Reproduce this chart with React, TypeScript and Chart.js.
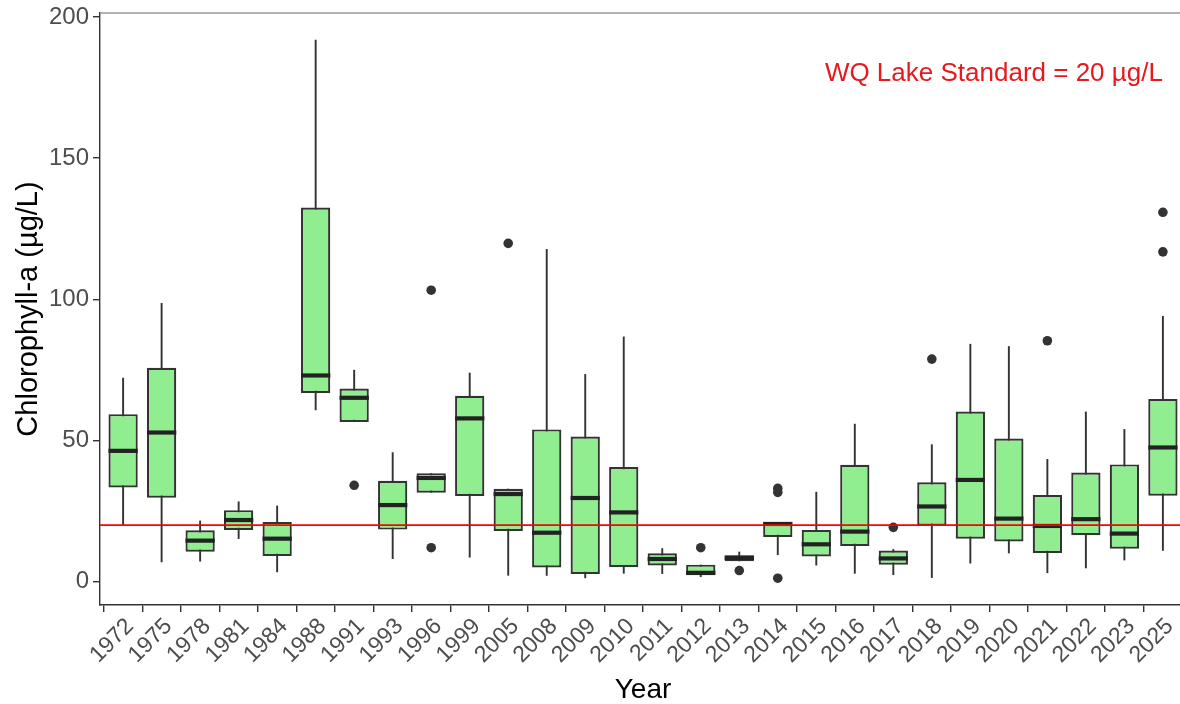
import { useEffect, useRef } from "react";
import { Chart, registerables } from "chart.js";

Chart.register(...registerables);

// Sampling years (one box per year)
const years = [
  "1972", "1975", "1978", "1981", "1984", "1988", "1991", "1993", "1996", "1999",
  "2005", "2008", "2009", "2010", "2011", "2012", "2013", "2014", "2015", "2016",
  "2017", "2018", "2019", "2020", "2021", "2022", "2023", "2025",
];

// Box-plot summary statistics, chlorophyll-a in µg/L
const whiskerLow = [
  19.9, 6.8, 7.1, 15.1, 3.3, 60.7, 56.5, 8.0, 31.5, 8.5,
  2.1, 2.1, 1.2, 2.8, 2.7, 1.6, 7.2, 9.4, 5.7, 2.8,
  2.3, 1.3, 6.4, 10.0, 3.0, 4.7, 7.5, 10.9,
];
const quartile1 = [
  33.3, 29.7, 10.6, 18.3, 9.1, 66.8, 56.5, 18.4, 31.5, 30.3,
  17.9, 5.0, 2.7, 5.1, 5.7, 2.2, 7.2, 15.8, 8.9, 12.6,
  6.0, 19.8, 15.2, 14.2, 10.1, 16.4, 11.6, 30.4,
];
const medians = [
  46.3, 52.8, 14.5, 21.8, 15.2, 73.0, 65.1, 27.1, 36.7, 57.8,
  31.0, 17.3, 29.6, 24.5, 8.0, 3.1, 8.4, 20.4, 13.2, 17.7,
  8.2, 26.6, 36.0, 22.3, 19.7, 22.1, 17.0, 47.5,
];
const quartile3 = [
  59.3, 75.7, 18.2, 25.3, 21.1, 132.5, 68.4, 35.7, 38.4, 65.8,
  32.9, 53.9, 51.4, 40.6, 10.0, 6.0, 9.3, 21.0, 18.3, 41.4,
  11.0, 35.2, 60.2, 50.7, 30.7, 38.6, 41.5, 64.7,
];
const whiskerHigh = [
  72.2, 98.7, 21.6, 28.4, 26.9, 191.9, 75.0, 45.8, 38.4, 74.0,
  32.9, 117.8, 73.5, 86.8, 11.8, 6.0, 10.6, 21.0, 31.8, 55.9,
  11.5, 48.6, 84.2, 83.4, 43.4, 60.2, 54.0, 94.1,
];

// Individual outlying samples
const outlierYears = [
  "1991", "1996", "1996", "2005", "2012", "2013", "2014", "2014", "2014",
  "2017", "2018", "2021", "2025", "2025",
];
const outlierValues = [
  34.1, 103.2, 12.0, 119.8, 12.0, 3.9, 33.0, 31.6, 1.2,
  19.2, 78.8, 85.3, 130.8, 116.8,
];

const yTicks = [0, 50, 100, 150, 200];
const standardValue = 20;
const standardLabel = "WQ Lake Standard = 20 µg/L";
const standardLabelY = 180;

const FONT = '"Liberation Sans", Arial, Helvetica, sans-serif';
const BOX_FILL = "#90EE90";
const INK = "#333333";

const boxExtras = {
  id: "boxExtras",
  afterDatasetsDraw(chart: any) {
    const { ctx, chartArea, scales } = chart;
    const x = scales.x;
    const y = scales.y;
    const boxMeta = chart.getDatasetMeta(1);
    ctx.save();

    // median bars across each box
    ctx.strokeStyle = "#222222";
    ctx.lineWidth = 4.2;
    ctx.lineCap = "butt";
    medians.forEach((m, i) => {
      const el = boxMeta.data[i];
      const half = el.width / 2;
      const px = x.getPixelForValue(i);
      const py = y.getPixelForValue(m);
      ctx.beginPath();
      ctx.moveTo(px - half, py);
      ctx.lineTo(px + half, py);
      ctx.stroke();
    });

    // water-quality standard reference line
    const sy = y.getPixelForValue(standardValue);
    ctx.strokeStyle = "#ff0000";
    ctx.lineWidth = 1.6;
    ctx.beginPath();
    ctx.moveTo(chartArea.left, sy);
    ctx.lineTo(chartArea.right, sy);
    ctx.stroke();

    ctx.fillStyle = "#e8191e";
    ctx.font = `26px ${FONT}`;
    ctx.textAlign = "right";
    ctx.textBaseline = "middle";
    ctx.fillText(
      standardLabel,
      x.getPixelForValue(years.length - 1),
      y.getPixelForValue(standardLabelY)
    );

    // light frame line along the top of the panel
    ctx.strokeStyle = "#999999";
    ctx.lineWidth = 1.6;
    ctx.beginPath();
    ctx.moveTo(chartArea.left, chartArea.top);
    ctx.lineTo(chartArea.right + 20, chartArea.top);
    ctx.stroke();

    ctx.restore();
  },
};

export default function App() {
  const canvasRef = useRef<HTMLCanvasElement | null>(null);

  useEffect(() => {
    const canvas = canvasRef.current;
    if (!canvas) return;
    Chart.defaults.font.family = FONT;

    const idx = years.map((_, i) => i);
    const whiskerData = idx.map((i) => ({ x: i, y: [whiskerLow[i], whiskerHigh[i]] }));
    const boxData = idx.map((i) => ({ x: i, y: [quartile1[i], quartile3[i]] }));
    const outlierData = outlierYears.map((yr, k) => ({
      x: years.indexOf(yr),
      y: outlierValues[k],
    }));

    const chart = new Chart(canvas, {
      type: "bar",
      data: {
        datasets: [
          {
            label: "whiskers",
            data: whiskerData as any,
            backgroundColor: INK,
            borderWidth: 0,
            grouped: false,
            categoryPercentage: 1,
            barPercentage: 0.05,
            order: 3,
          },
          {
            label: "boxes",
            data: boxData as any,
            backgroundColor: BOX_FILL,
            borderColor: INK,
            borderWidth: 2.2,
            borderSkipped: false,
            grouped: false,
            categoryPercentage: 1,
            barPercentage: 0.76,
            order: 2,
          },
          {
            type: "scatter",
            label: "outliers",
            data: outlierData as any,
            backgroundColor: INK,
            borderWidth: 0,
            pointRadius: 4.8,
            order: 1,
          } as any,
        ],
      },
      options: {
        animation: false,
        responsive: false,
        devicePixelRatio: 1,
        layout: { padding: { left: 0, right: 14, top: 13, bottom: 0 } },
        plugins: {
          legend: { display: false },
          tooltip: { enabled: false },
        },
        scales: {
          x: {
            type: "linear",
            min: -0.6,
            max: years.length - 1 + 0.6,
            offset: false,
            afterBuildTicks: (scale: any) => {
              scale.ticks = years.map((_, i) => ({ value: i }));
            },
            afterFit: (scale: any) => {
              scale.height = 99;
              scale.paddingLeft = 0;
              scale.paddingRight = 0;
            },
            ticks: {
              autoSkip: false,
              minRotation: 45,
              maxRotation: 45,
              padding: 1,
              labelOffset: 7,
              color: "#4d4d4d",
              font: { size: 23 },
              callback: (v: any) => years[Math.round(Number(v))] ?? "",
            },
            grid: {
              display: true,
              drawOnChartArea: false,
              drawTicks: true,
              tickLength: 7,
              color: INK,
              lineWidth: 1.4,
            },
            border: { display: true, color: INK, width: 1.4 },
            title: {
              display: true,
              text: "Year",
              color: "#000000",
              font: { size: 28 },
              padding: { top: 0, bottom: -3 },
            },
          },
          y: {
            type: "linear",
            min: -8.3,
            max: 201.4,
            afterBuildTicks: (scale: any) => {
              scale.ticks = yTicks.map((v) => ({ value: v }));
            },
            afterFit: (scale: any) => {
              scale.width = 100;
              scale.paddingTop = 0;
              scale.paddingBottom = 0;
            },
            ticks: {
              padding: 4,
              color: "#4d4d4d",
              font: { size: 24 },
            },
            grid: {
              display: true,
              drawOnChartArea: false,
              drawTicks: true,
              tickLength: 7,
              color: INK,
              lineWidth: 1.4,
            },
            border: { display: true, color: INK, width: 1.4 },
            title: {
              display: true,
              text: "Chlorophyll-a (µg/L)",
              color: "#000000",
              font: { size: 29 },
              padding: { top: 12, bottom: 0 },
            },
          },
        },
      },
      plugins: [boxExtras],
    });

    return () => chart.destroy();
  }, []);

  return (
    <div
      style={{
        position: "fixed",
        left: 0,
        top: 0,
        width: 1180,
        height: 704,
        overflow: "hidden",
        background: "#ffffff",
      }}
    >
      <canvas
        ref={canvasRef}
        width={1200}
        height={704}
        style={{ display: "block", width: 1200, height: 704 }}
      />
    </div>
  );
}
